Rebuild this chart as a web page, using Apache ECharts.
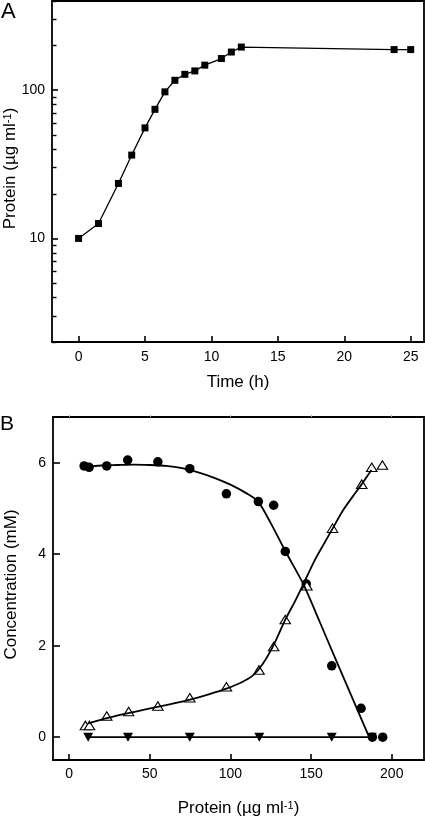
<!DOCTYPE html>
<html>
<head>
<meta charset="utf-8">
<script src="https://cdn.jsdelivr.net/npm/echarts@6/dist/echarts.min.js"></script>
<style>html,body{margin:0;padding:0;background:#fff}#c{width:425px;height:818px}</style>
</head>
<body>
<div id="c"></div>
<script>
// Panel A: growth curve
const timeH = [0, 1.5, 3, 4, 5, 5.75, 6.5, 7.25, 8, 8.75, 9.5, 10.75, 11.5, 12.25, 23.75, 25];
const proteinA = [10, 12.6, 23.5, 36.5, 55.7, 74.3, 97.5, 116.7, 128, 135, 147.6, 163.6, 181, 195.5, 188, 188];
const xTicksA = [0, 5, 10, 15, 20, 25];
const yLabelsA = [10, 100];
const yMinorA = [2, 3, 4, 5, 6, 7, 8, 9, 20, 30, 40, 50, 60, 70, 80, 90, 200, 300, 400];

// Panel B: concentrations vs protein
const circP = [9.3, 12.4, 23.3, 36.3, 55, 74.8, 97.5, 117.3, 126.8, 134, 147, 162.8, 181, 188, 194.4];
const circC = [5.93, 5.9, 5.93, 6.06, 6.02, 5.87, 5.32, 5.15, 5.07, 4.06, 3.35, 1.56, 0.63, 0, 0];
const triP = [10.1, 12.6, 23.3, 36.9, 55, 74.8, 97.5, 117.7, 126.8, 134, 147.4, 163.3, 181.4, 187.6, 194.2];
const triC = [0.255, 0.255, 0.46, 0.56, 0.68, 0.86, 1.1, 1.47, 1.98, 2.57, 3.31, 4.57, 5.53, 5.9, 5.95];
const invP = [11.8, 36.5, 74.8, 117.9, 162.8, 187.6];
const invC = [0, 0, 0, 0, 0, 0];
const fitCircP = [8, 20, 30, 40, 50, 60, 70, 80, 90, 100, 110, 117, 125, 134, 145, 155, 165, 175, 186];
const fitCircC = [5.91, 5.94, 5.95, 5.96, 5.95, 5.93, 5.88, 5.79, 5.67, 5.52, 5.33, 5.16, 4.68, 4.07, 3.36, 2.55, 1.72, 0.9, 0];
const fitTriP = [12, 24, 36, 48, 60, 75, 87, 97.5, 107, 114, 120, 127, 134, 140, 145, 152, 158, 163.5, 170, 176, 181, 187.4];
const fitTriC = [0.3, 0.42, 0.52, 0.61, 0.7, 0.82, 0.94, 1.06, 1.2, 1.35, 1.6, 2.03, 2.57, 2.97, 3.33, 3.85, 4.23, 4.57, 4.97, 5.27, 5.51, 5.84];
const xTicksB = [0, 50, 100, 150, 200];
const yTicksB = [0, 2, 4, 6];

const zip = (a, b) => a.map((v, i) => [v, b[i]]);
const FONT = "'Liberation Sans', Arial, Helvetica, sans-serif";
const tickLabel = { color: '#000', fontSize: 14, fontFamily: FONT };
const nameStyle = { color: '#000', fontSize: 17, fontFamily: FONT,
  rich: { sup: { fontSize: 11, fontFamily: FONT, color: '#000', verticalAlign: 'top' } } };
const axLine = { show: true, onZero: false, lineStyle: { color: '#000', width: 1.8 } };
const tick = (vals, len, w) => ({ show: true, inside: true, length: len, customValues: vals,
  lineStyle: { color: '#000', width: w } });
const frameOnly = { axisLine: axLine, axisTick: { show: false }, axisLabel: { show: false }, splitLine: { show: false } };

const chart = echarts.init(document.getElementById('c'), null, { renderer: 'canvas' });
chart.setOption({
  animation: false,
  backgroundColor: '#fff',
  textStyle: { fontFamily: FONT },
  graphic: [
    { type: 'text', left: 1, top: 1, style: { text: 'A', fontSize: 22, fontFamily: FONT, fill: '#000' } },
    { type: 'text', left: 0, top: 414, style: { text: 'B', fontSize: 21, fontFamily: FONT, fill: '#000' } }
  ],
  grid: [
    { left: 52, top: 1, right: 1, height: 341, show: false, outerBoundsMode: 'none', containLabel: false },
    { left: 53, top: 417, right: 1, height: 343, show: false, outerBoundsMode: 'none', containLabel: false }
  ],
  xAxis: [
    { type: 'value', gridIndex: 0, min: -2, max: 26,
      name: 'Time (h)', nameLocation: 'middle', nameGap: 32, nameMoveOverlap: false, nameTextStyle: nameStyle,
      axisLine: axLine, splitLine: { show: false },
      axisTick: tick(xTicksA, 6, 1.6),
      axisLabel: { customValues: xTicksA, margin: 8, ...tickLabel } },
    { type: 'value', gridIndex: 1, min: -10, max: 220,
      name: 'Protein (µg ml{sup|-1})', nameLocation: 'middle', nameGap: 40, nameMoveOverlap: false, nameTextStyle: nameStyle,
      axisLine: axLine, splitLine: { show: false },
      axisTick: tick(xTicksB, 6, 1.6),
      axisLabel: { customValues: xTicksB, margin: 7, ...tickLabel } },
    { type: 'value', gridIndex: 0, min: -2, max: 26, position: 'top', ...frameOnly },
    { type: 'value', gridIndex: 1, min: -10, max: 220, position: 'top', ...frameOnly,
      axisTick: { show: true, inside: false, length: 2, customValues: xTicksB, lineStyle: { color: '#aaa', width: 1 } } }
  ],
  yAxis: [
    { type: 'log', logBase: 10, gridIndex: 0, min: 2, max: 400,
      name: 'Protein (µg ml{sup|-1})', nameLocation: 'middle', nameGap: 33, nameMoveOverlap: false,
      nameTextStyle: Object.assign({}, nameStyle, { padding: [0, 0, 0, 6] }),
      axisLine: axLine, splitLine: { show: false },
      axisTick: tick(yLabelsA, 6, 1.6),
      axisLabel: { customValues: yLabelsA, margin: 7, ...tickLabel } },
    { type: 'log', logBase: 10, gridIndex: 0, min: 2, max: 400, position: 'left', offset: 0,
      axisLine: { show: false, onZero: false }, splitLine: { show: false },
      axisTick: tick(yMinorA, 4.5, 1.4),
      axisLabel: { show: false } },
    { type: 'value', gridIndex: 1, min: -0.5, max: 7,
      name: 'Concentration (mM)', nameLocation: 'middle', nameGap: 33, nameMoveOverlap: false,
      nameTextStyle: Object.assign({}, nameStyle, { padding: [0, 0, 0, 8] }),
      axisLine: axLine, splitLine: { show: false },
      axisTick: tick(yTicksB, 7, 1.6),
      axisLabel: { customValues: yTicksB, margin: 7, ...tickLabel } },
    { type: 'log', logBase: 10, gridIndex: 0, min: 2, max: 400, position: 'right', ...frameOnly },
    { type: 'value', gridIndex: 1, min: -0.5, max: 7, position: 'right', ...frameOnly }
  ],
  series: [
    { type: 'line', xAxisIndex: 0, yAxisIndex: 0, data: zip(timeH, proteinA),
      symbol: 'rect', symbolSize: 7, itemStyle: { color: '#000', opacity: 1 },
      lineStyle: { color: '#000', width: 1.3 } },
    { type: 'line', xAxisIndex: 1, yAxisIndex: 2, data: zip(fitCircP, fitCircC),
      symbol: 'none', smooth: 0.25, lineStyle: { color: '#000', width: 1.8 } },
    { type: 'line', xAxisIndex: 1, yAxisIndex: 2, data: zip(fitTriP, fitTriC),
      symbol: 'none', smooth: 0.25, lineStyle: { color: '#000', width: 1.8 } },
    { type: 'line', xAxisIndex: 1, yAxisIndex: 2, data: zip(invP, invC),
      symbol: 'triangle', symbolRotate: 180, symbolSize: [10, 9], itemStyle: { color: '#000', opacity: 1 },
      lineStyle: { color: '#000', width: 1.8 } },
    { type: 'scatter', xAxisIndex: 1, yAxisIndex: 2, data: zip(circP, circC),
      symbol: 'circle', symbolSize: 9.5, itemStyle: { color: '#000', opacity: 1 } },
    { type: 'scatter', xAxisIndex: 1, yAxisIndex: 2, data: zip(triP, triC),
      symbol: 'triangle', symbolSize: [10.5, 8.5], itemStyle: { color: '#fff', borderColor: '#000', borderWidth: 1.1, opacity: 1 } }
  ]
});
</script>
</body>
</html>
